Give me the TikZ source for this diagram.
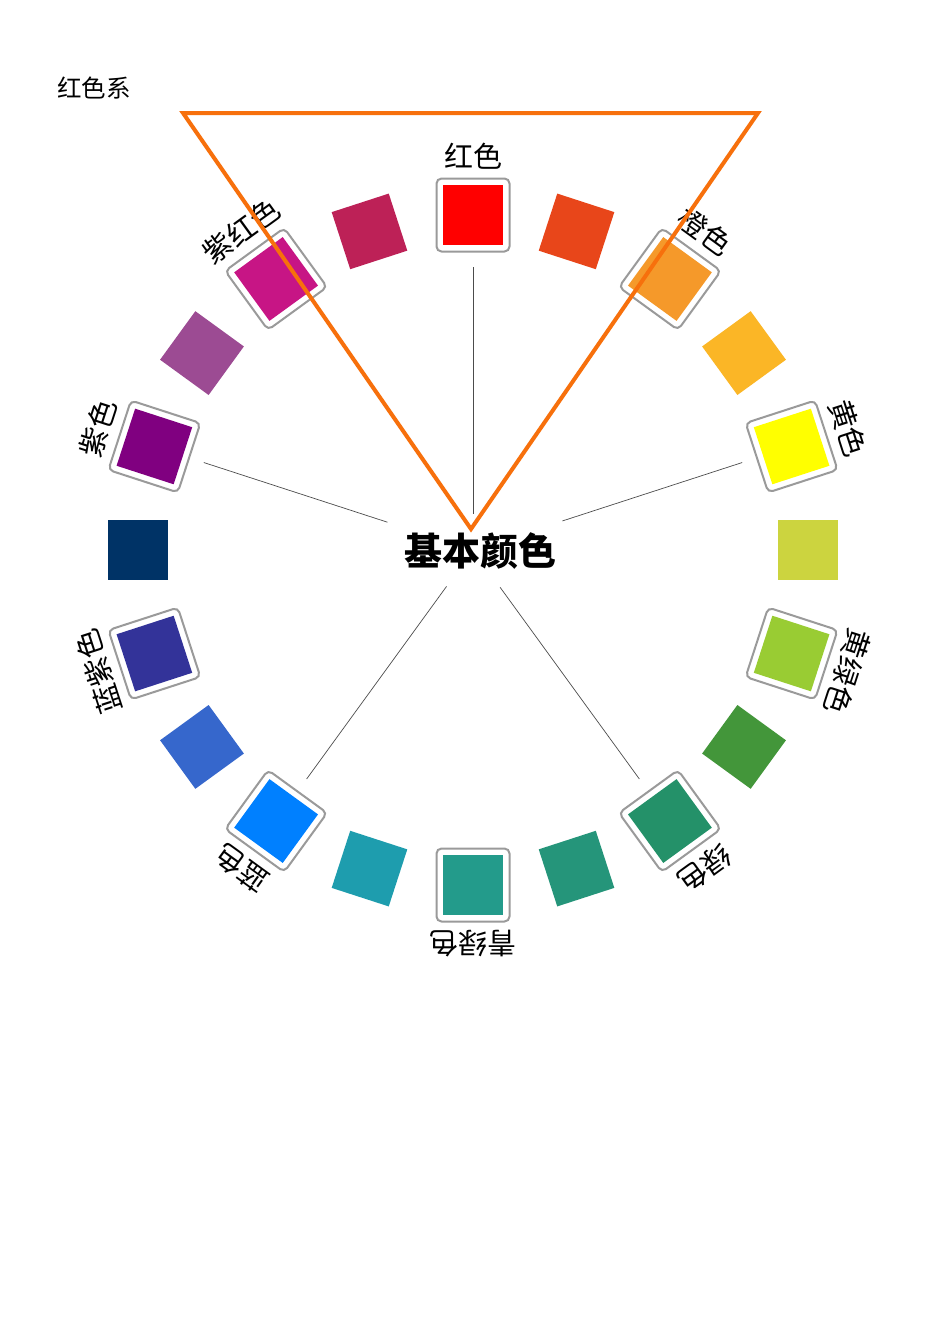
\documentclass[tikz,border=0pt]{standalone}
\usepackage{fontspec}
\newfontfamily\cjk{Noto Sans CJK SC}
\usetikzlibrary{calc}
\definecolor{c0}{HTML}{FF0000}
\definecolor{c1}{HTML}{E8461A}
\definecolor{c2}{HTML}{F5992A}
\definecolor{c3}{HTML}{FBB626}
\definecolor{c4}{HTML}{FFFF00}
\definecolor{c5}{HTML}{CCD43F}
\definecolor{c6}{HTML}{99CC33}
\definecolor{c7}{HTML}{43963A}
\definecolor{c8}{HTML}{249169}
\definecolor{c9}{HTML}{25957A}
\definecolor{c10}{HTML}{239B8B}
\definecolor{c11}{HTML}{1E9DAE}
\definecolor{c12}{HTML}{0080FF}
\definecolor{c13}{HTML}{3667CC}
\definecolor{c14}{HTML}{333399}
\definecolor{c15}{HTML}{003366}
\definecolor{c16}{HTML}{800080}
\definecolor{c17}{HTML}{9C4B93}
\definecolor{c18}{HTML}{C71585}
\definecolor{c19}{HTML}{BD2157}
\definecolor{triorange}{HTML}{F7700C}
\definecolor{framegray}{HTML}{9A9A9A}
\begin{document}
\begin{tikzpicture}[x=1pt,y=-1pt,
  swatch/.style={minimum size=60pt, inner sep=0pt, outer sep=0pt},
  framebox/.style={draw=framegray, line width=2pt, rounded corners=5pt, fill=white, minimum size=73pt, inner sep=0pt},
  lbl/.style={font=\cjk\fontsize{29}{29}\selectfont, inner sep=0pt},
  spoke/.style={draw=black!70, line width=0.7pt},
  tri/.style={draw=triorange, line width=4pt, line join=miter}]
\useasboundingbox (0,0) rectangle (950,1344);
\fill[white] (0,0) rectangle (950,1344);
\coordinate (C) at (473,550);
% plain swatches
\foreach \i in {1,3,...,19} {
  \node[swatch, fill=c\i, rotate=-18*\i] (s\i) at ({473+335*sin(18*\i)},{550-335*cos(18*\i)}) {};
}
% framed swatches with labels
\foreach \i/\name in {0/红色,2/橙色,4/黄色,6/黄绿色,8/绿色,10/青绿色,12/蓝色,14/蓝紫色,16/紫色,18/紫红色} {
  \node[framebox, rotate=-18*\i] (f\i) at ({473+335*sin(18*\i)},{550-335*cos(18*\i)}) {};
  \node[swatch, fill=c\i, rotate=-18*\i] (s\i) at ({473+335*sin(18*\i)},{550-335*cos(18*\i)}) {};
  \node[lbl, rotate=-18*\i] (l\i) at ({473+394*sin(18*\i)},{550-394*cos(18*\i)}) {\name};
}
% spokes
\foreach \a/\r in {0/36,72/94,144/46,216/45,288/90} {
  \coordinate (o\a) at ({473+283*sin(\a)},{550-283*cos(\a)});
  \coordinate (n\a) at ({473+\r*sin(\a)},{550-\r*cos(\a)});
  \draw[spoke] (o\a) -- (n\a);
}
\node[font=\cjk\bfseries\fontsize{38}{38}\selectfont, inner sep=0pt] (title) at (480,551) {基本颜色};
\node[anchor=west, font=\cjk\fontsize{24.5}{25}\selectfont, inner sep=0pt] (sys) at (57,88) {红色系};
% triangle
\coordinate (t1) at (183,113);
\coordinate (t2) at (758,113);
\coordinate (t3) at (471,529);
\draw[tri] (t1) -- (t2) -- (t3) -- cycle;
\end{tikzpicture}
\end{document}
